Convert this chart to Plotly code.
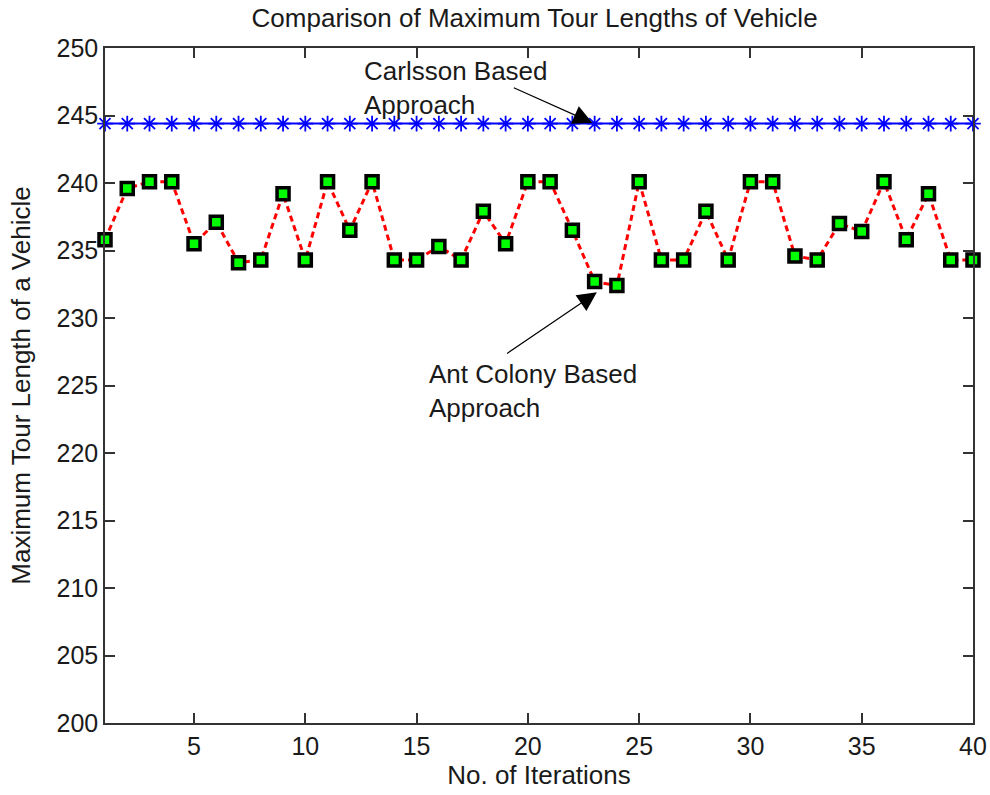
import plotly.graph_objects as go

iterations = list(range(1, 41))
carlsson = [244.4] * 40
ant_colony = [235.8, 239.6, 240.1, 240.1, 235.5, 237.1, 234.1, 234.3, 239.2, 234.3,
              240.1, 236.5, 240.1, 234.3, 234.3, 235.3, 234.3, 237.9, 235.5, 240.1,
              240.1, 236.5, 232.7, 232.4, 240.1, 234.3, 234.3, 237.9, 234.3, 240.1,
              240.1, 234.6, 234.3, 237.0, 236.4, 240.1, 235.8, 239.2, 234.3, 234.3]
x_ticks = [5, 10, 15, 20, 25, 30, 35, 40]
y_ticks = list(range(200, 251, 5))

FONT = "Arial, Liberation Sans, sans-serif"
TXT = "#1a1a1a"
AX = "#333333"

fig = go.Figure()
fig.add_trace(go.Scatter(
    x=iterations, y=carlsson, mode="lines+markers", cliponaxis=False,
    line=dict(color="#0000ff", width=2),
    marker=dict(symbol="asterisk-open", size=13, line=dict(color="#0000ff", width=1.8)),
    showlegend=False))
fig.add_trace(go.Scatter(
    x=iterations, y=ant_colony, mode="lines+markers", cliponaxis=False,
    line=dict(color="#ff0000", width=3, dash="6px,4px"),
    marker=dict(symbol="square", size=12, color="#00ff00", line=dict(color="#000000", width=3.5)),
    showlegend=False))

annotations = [
    dict(x=22.9, y=244.45, ax=19.3, ay=247.1, xref="x", yref="y", axref="x", ayref="y",
         text="", showarrow=True, arrowhead=2, arrowsize=3.2, arrowwidth=1.2, arrowcolor="#000"),
    dict(x=23.1, y=231.9, ax=19.0, ay=227.3, xref="x", yref="y", axref="x", ayref="y",
         text="", showarrow=True, arrowhead=2, arrowsize=3.2, arrowwidth=1.2, arrowcolor="#000"),
    dict(x=12.55, y=247.05, xref="x", yref="y", text="Carlsson Based<br>Approach",
         showarrow=False, xanchor="left", yanchor="middle", align="left",
         font=dict(family=FONT, size=26, color=TXT)),
    dict(x=15.45, y=224.6, xref="x", yref="y", text="Ant Colony Based<br>Approach",
         showarrow=False, xanchor="left", yanchor="middle", align="left",
         font=dict(family=FONT, size=26, color=TXT)),
]

fig.update_layout(
    width=990, height=795,
    margin=dict(l=105, r=17, t=48, b=72, autoexpand=False),
    paper_bgcolor="white", plot_bgcolor="white",
    font=dict(family=FONT, size=25, color=TXT),
    title=dict(text="Comparison of Maximum Tour Lengths of Vehicle", x=0.54, xanchor="center",
               y=1 - 18 / 795, yanchor="middle", font=dict(size=26, color=TXT)),
    annotations=annotations,
)
fig.update_xaxes(range=[1, 40], tickvals=x_ticks, ticks="inside", ticklen=10, tickwidth=1.5,
                 tickcolor=AX, showline=True, linecolor=AX, linewidth=1.5, mirror="ticks",
                 showgrid=False, zeroline=False, tickfont=dict(size=25), automargin=False,
                 title=dict(text="No. of Iterations", font=dict(size=26), standoff=6))
fig.update_yaxes(range=[200, 250], tickvals=y_ticks, ticks="inside", ticklen=10, tickwidth=1.5,
                 tickcolor=AX, showline=True, linecolor=AX, linewidth=1.5, mirror="ticks",
                 showgrid=False, zeroline=False, tickfont=dict(size=25), automargin=False,
                 title=dict(text="Maximum Tour Length of a Vehicle", font=dict(size=26), standoff=18))

fig.write_html("out.html")
